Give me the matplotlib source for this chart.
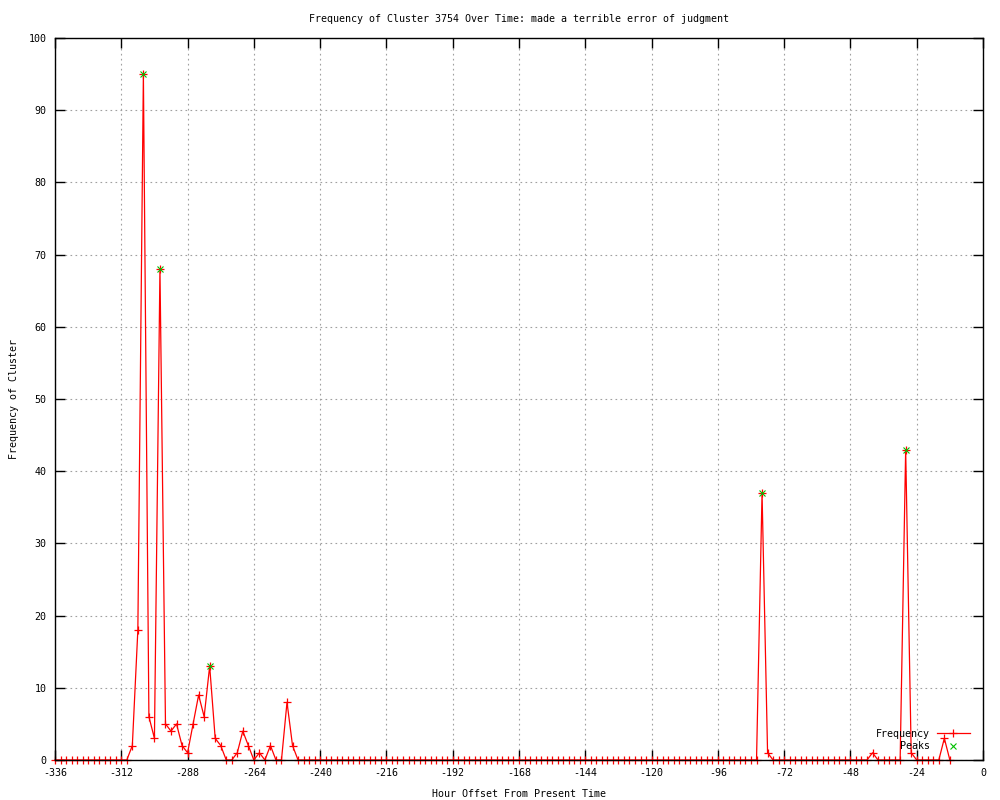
import numpy as np
import matplotlib
matplotlib.use("Agg")
import matplotlib.pyplot as plt
from matplotlib.ticker import MultipleLocator

# Hour offsets (every 2 hours from -336 to -12)
hours = np.arange(-336, -11, 2)
frequency = [
    0, 0, 0, 0, 0, 0, 0, 0, 0, 0, 0, 0, 0, 0,            # -336 .. -310
    2, 18, 95, 6, 3, 68, 5, 4, 5, 2, 1, 5, 9, 6, 13,     # -308 .. -280
    3, 2, 0, 0, 1, 4, 2, 0, 1, 0, 2, 0, 0, 8, 2,         # -278 .. -250
    0, 0, 0, 0, 0, 0, 0, 0, 0, 0, 0, 0, 0, 0, 0, 0, 0, 0, 0, 0, 0,  # -248 .. -208
    0, 0, 0, 0, 0, 0, 0, 0, 0, 0, 0, 0, 0, 0, 0, 0, 0, 0, 0, 0, 0,  # -206 .. -166
    0, 0, 0, 0, 0, 0, 0, 0, 0, 0, 0, 0, 0, 0, 0, 0, 0, 0, 0, 0, 0,  # -164 .. -124
    0, 0, 0, 0, 0, 0, 0, 0, 0, 0, 0, 0, 0, 0, 0, 0, 0, 0, 0, 0, 0,  # -122 .. -82
    37, 1,                                                # -80, -78
    0, 0, 0, 0, 0, 0, 0, 0, 0, 0, 0, 0, 0, 0, 0, 0, 0, 0, # -76 .. -42
    1,                                                    # -40
    0, 0, 0, 0, 0,                                        # -38 .. -30
    43, 1,                                                # -28, -26
    0, 0, 0, 0, 0,                                        # -24 .. -16
    3, 0,                                                 # -14, -12
]
peak_hours = [-304, -298, -280, -80, -28]
peak_values = [95, 68, 13, 37, 43]

x_ticks = [-336, -312, -288, -264, -240, -216, -192, -168, -144, -120, -96, -72, -48, -24, 0]
x_tick_labels = ["-336", "-312", "-288", "-264", "-240", "-216", "-192", "-168",
                 "-144", "-120", "-96", "-72", "-48", "-24", "0"]

title = "Frequency of Cluster 3754 Over Time: made a terrible error of judgment"
xlabel = "Hour Offset From Present Time"
ylabel = "Frequency of Cluster"

FONT = "DejaVu Sans Mono"
FS = 7.2

fig = plt.figure(figsize=(10, 8), dpi=100)
ax = fig.add_axes([0.055, 0.05, 0.928, 0.9025])

ax.plot(hours, frequency, color="#ff0000", lw=0.9, marker="+", ms=6,
        mew=0.9, label="Frequency", clip_on=False, zorder=3)
ax.plot(peak_hours, peak_values, linestyle="none", color="#00c000",
        marker="x", ms=5, mew=0.8, label="Peaks", clip_on=False, zorder=4)

ax.set_xticks(x_ticks)
ax.set_xticklabels(x_tick_labels)
ax.yaxis.set_major_locator(MultipleLocator(10))
ax.set_xlim(-336, 0)
ax.set_ylim(0, 100)

ax.grid(True, color="#a0a0a0", linestyle=(0, (1.5, 3)), linewidth=0.8)
ax.set_axisbelow(True)

for s in ax.spines.values():
    s.set_linewidth(1.0)
    s.set_color("black")
    s.set_zorder(5)

ax.tick_params(direction="in", length=7, width=1.0, top=True, right=True,
               labelsize=FS, pad=6)
for lbl in ax.get_xticklabels() + ax.get_yticklabels():
    lbl.set_fontfamily(FONT)
    lbl.set_fontsize(FS)

ax.set_title(title, fontfamily=FONT, fontsize=FS, pad=11.5)
ax.set_xlabel(xlabel, fontfamily=FONT, fontsize=FS, labelpad=7.5)
ax.set_ylabel(ylabel, fontfamily=FONT, fontsize=FS, labelpad=7)

leg = ax.legend(loc="lower right", bbox_to_anchor=(0.991, 0.005),
                frameon=False, markerfirst=False, borderpad=0,
                handlelength=3.3, handletextpad=0.7, labelspacing=0.25,
                prop={"family": FONT, "size": FS})

fig.savefig("out.png", dpi=100)
